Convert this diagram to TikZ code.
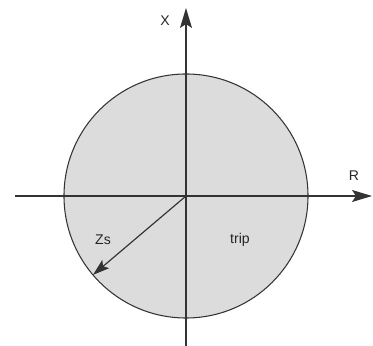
\documentclass[tikz,border=0pt]{standalone}
\usepackage{fontspec}
\setmainfont{Liberation Sans}
\usetikzlibrary{arrows.meta}
\definecolor{discgray}{HTML}{DCDCDC}
\definecolor{linegray}{HTML}{333333}

\begin{document}
\begin{tikzpicture}[x=0.03cm, y=0.03cm, line join=round,
  >={Stealth[length=0.6cm, width=0.36cm, inset=0.12cm]},
  axisline/.style={draw=linegray, line width=1pt},
  lbl/.style={font=\fontsize{12}{14}\selectfont, text=black!85, inner sep=0pt}]
  \useasboundingbox (-186,-150) rectangle (187,196);
  % ========================================================
  % 0. COORDINATES (origin at the crossing of the axes)
  % ========================================================
  \coordinate (O) at (0,0);
  \coordinate (Xtop) at (0,188);
  \coordinate (Xbot) at (0,-150);
  \coordinate (Rleft) at (-171,0);
  \coordinate (Rright) at (186,0);
  \coordinate (Zend) at (220.3:122);

  % ========================================================
  % 1. TRIP DISC
  % ========================================================
  \fill[discgray] (O) circle[radius=3.66cm];
  \draw[linegray, line width=0.9pt] (O) circle[radius=3.66cm];

  % ========================================================
  % 2. AXES AND IMPEDANCE VECTOR
  % ========================================================
  \draw[axisline, ->] (Xbot) -- (Xtop);
  \draw[axisline, ->] (Rleft) -- (Rright);
  \draw[axisline, -{Stealth[length=0.5cm, width=0.32cm, inset=0.1cm]}] (O) -- (Zend);

  % ========================================================
  % 3. LABELS
  % ========================================================
  \node[lbl] (xlbl) at (-21,175) {X};
  \node[lbl] (rlbl) at (168,20) {R};
  \node[lbl] (zslbl) at (-83,-44) {Zs};
  \node[lbl] (triplbl) at (54,-44) {trip};
\end{tikzpicture}
\end{document}
